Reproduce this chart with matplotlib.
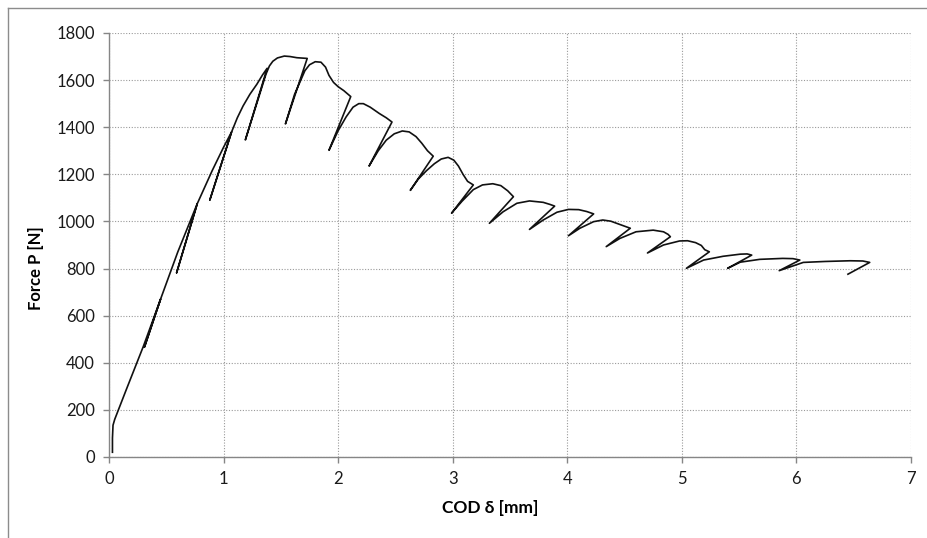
import matplotlib
matplotlib.use("Agg")
import matplotlib.pyplot as plt
from matplotlib.lines import Line2D

# Crack opening displacement (mm) and force (N) of a cyclic load test
cod_mm = [
    0.03, 0.03, 0.035, 0.05, 0.15, 0.30, 0.45,
    0.31, 0.45, 0.60, 0.77,
    0.59, 0.77, 0.90, 1.00, 1.07,
    0.88, 1.07, 1.12, 1.17, 1.23, 1.29, 1.34, 1.38,
    1.19, 1.37, 1.40, 1.43, 1.47, 1.53, 1.58, 1.64, 1.73,
    1.54, 1.62, 1.67, 1.71, 1.75, 1.80, 1.85, 1.89, 1.92, 1.96, 2.00, 2.05, 2.11,
    1.92, 2.00, 2.07, 2.13, 2.18, 2.22, 2.28, 2.36, 2.42, 2.47,
    2.27, 2.35, 2.42, 2.49, 2.56, 2.62, 2.68, 2.73, 2.78, 2.83,
    2.63, 2.70, 2.77, 2.84, 2.90, 2.96, 3.01, 3.05, 3.09, 3.13, 3.18,
    2.99, 3.08, 3.18, 3.26, 3.35, 3.42, 3.48, 3.53,
    3.32, 3.44, 3.56, 3.67, 3.79, 3.85, 3.89,
    3.67, 3.79, 3.91, 4.01, 4.10, 4.17, 4.23,
    4.01, 4.11, 4.23, 4.31, 4.38, 4.47, 4.55,
    4.34, 4.46, 4.60, 4.75, 4.84, 4.88, 4.90,
    4.70, 4.84, 4.98, 5.05, 5.12, 5.17, 5.20, 5.24,
    5.04, 5.19, 5.36, 5.51, 5.57, 5.61,
    5.40, 5.51, 5.68, 5.88, 5.97, 6.03,
    5.85, 6.06, 6.25, 6.47, 6.58, 6.64,
    6.45,
]
force_n = [
    20, 80, 135, 160, 285, 470, 670,
    467, 670, 870, 1075,
    782, 1075, 1215, 1315, 1380,
    1091, 1380, 1440, 1490, 1540, 1582, 1622, 1650,
    1346, 1625, 1660, 1680, 1694, 1702, 1700, 1695, 1692,
    1414, 1540, 1595, 1640, 1665, 1678, 1676, 1655, 1620, 1590, 1572, 1555, 1530,
    1302, 1385, 1444, 1485, 1500, 1500, 1485, 1458, 1440, 1422,
    1235, 1300, 1345, 1372, 1384, 1380, 1360, 1332, 1300, 1277,
    1132, 1180, 1215, 1245, 1265, 1272, 1260, 1235, 1200, 1170, 1155,
    1035, 1085, 1135, 1155, 1160, 1152, 1130, 1105,
    992, 1041, 1077, 1087, 1081, 1072, 1065,
    966, 1006, 1039, 1051, 1050, 1042, 1032,
    939, 971, 999, 1006, 1001, 985, 971,
    893, 928, 956, 963, 956, 945, 935,
    866, 900, 917, 918, 910, 898, 880, 871,
    801, 836, 852, 861, 862, 857,
    801, 827, 839, 843, 842, 836,
    791, 826, 830, 833, 832, 826,
    776,
]

x_ticks = [0, 1, 2, 3, 4, 5, 6, 7]
y_ticks = [0, 200, 400, 600, 800, 1000, 1200, 1400, 1600, 1800]

plt.rcParams["font.family"] = ["Lato", "DejaVu Sans"]

fig = plt.figure(figsize=(9.27, 5.38), dpi=100)
ax = fig.add_axes([0.1176, 0.1506, 0.8651, 0.7881])

ax.plot(cod_mm, force_n, color="#111111", lw=1.2, solid_joinstyle="round")

ax.set_xlim(0, 7)
ax.set_ylim(0, 1800)
ax.set_xticks(x_ticks)
ax.set_yticks(y_ticks)
ax.set_xticklabels([str(v) for v in x_ticks])
ax.set_yticklabels([str(v) for v in y_ticks])

ax.grid(True, color="#9a9a9a", linestyle=(0, (1, 1.5)), linewidth=0.8)
ax.set_axisbelow(True)

for side in ("top", "right"):
    ax.spines[side].set_visible(False)
for side in ("left", "bottom"):
    ax.spines[side].set_color("#868686")
    ax.spines[side].set_linewidth(1.0)

ax.tick_params(axis="both", direction="out", length=4, width=1.0,
               color="#868686", labelsize=12, labelcolor="#1a1a1a")
ax.tick_params(axis="x", pad=6)
ax.tick_params(axis="y", pad=6)

ax.set_xlabel("COD δ [mm]", fontsize=12.5, fontweight="bold")
ax.set_ylabel("Force P [N]", fontsize=12, fontweight="bold")
ax.xaxis.set_label_coords((490 - 109) / 802, (457 - 500) / 424)
ax.yaxis.set_label_coords((44 - 109) / 802, (457 - 268) / 424)

# Chart area frame (left and top edges)
W, H = 927, 538
fig.add_artist(Line2D([8 / W, 8 / W], [0, 1 - 8 / H], transform=fig.transFigure,
                      color="#8c8c8c", lw=1.0))
fig.add_artist(Line2D([8 / W, 1], [1 - 8 / H, 1 - 8 / H], transform=fig.transFigure,
                      color="#8c8c8c", lw=1.0))

fig.savefig("out.png", dpi=100)
